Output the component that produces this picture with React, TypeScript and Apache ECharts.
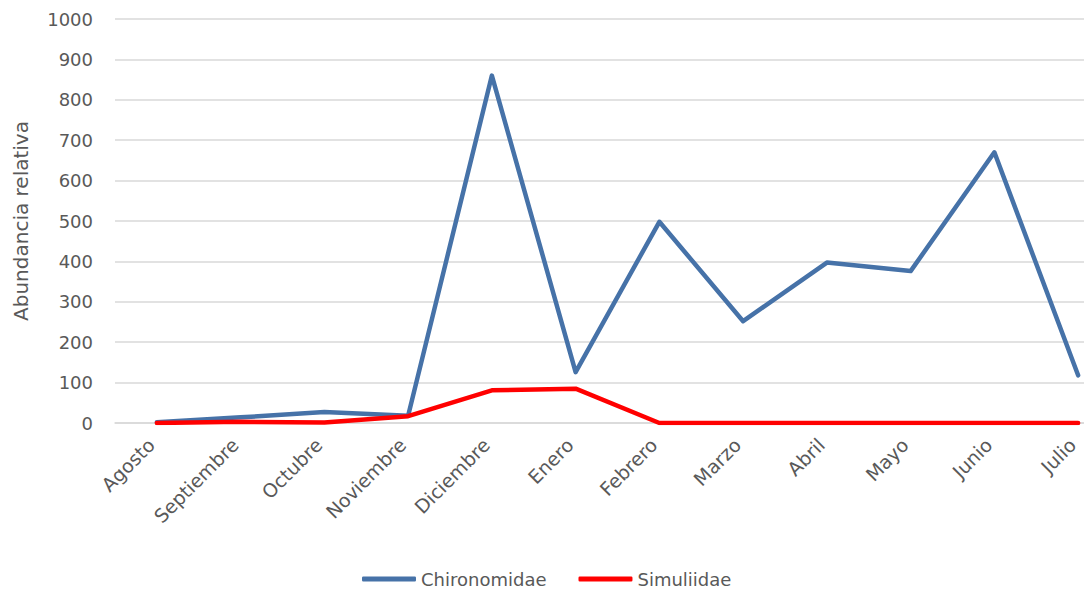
import React, { useEffect, useRef } from "react";
import * as echarts from "echarts";

// Months of sampling, August through July
const months = [
  "Agosto",
  "Septiembre",
  "Octubre",
  "Noviembre",
  "Diciembre",
  "Enero",
  "Febrero",
  "Marzo",
  "Abril",
  "Mayo",
  "Junio",
  "Julio",
];

// Relative abundance per month
const chironomidae = [2, 14, 27, 18, 860, 126, 498, 252, 397, 376, 670, 118];
const simuliidae = [0, 3, 1, 17, 81, 85, 0, 0, 0, 0, 0, 0];

const yTicks = { min: 0, max: 1000, interval: 100 };

const FONT = "DejaVu Sans";
const TEXT = "#595959";

export default function App() {
  const ref = useRef<HTMLDivElement>(null);

  useEffect(() => {
    if (!ref.current) return;
    const chart = echarts.init(ref.current, undefined, { renderer: "svg" });
    chart.setOption({
      animation: false,
      backgroundColor: "#ffffff",
      textStyle: { fontFamily: FONT, color: TEXT },
      // plot area runs past the right edge of the visible window
      grid: { left: 115, top: 19, width: 1005, height: 404 },
      legend: {
        left: 357,
        top: 565,
        itemWidth: 54,
        itemHeight: 5,
        itemGap: 32,
        icon: "roundRect",
        textStyle: { fontFamily: FONT, fontSize: 18, color: TEXT },
        data: ["Chironomidae", "Simuliidae"],
      },
      xAxis: {
        type: "category",
        data: months,
        boundaryGap: true,
        axisLine: { lineStyle: { color: "#D9D9D9", width: 1.5 } },
        axisTick: { show: false },
        axisLabel: {
          rotate: 45,
          interval: 0,
          margin: 13,
          padding: [0, 8, 0, 0],
          fontFamily: FONT,
          fontSize: 19,
          color: TEXT,
        },
      },
      yAxis: {
        type: "value",
        min: yTicks.min,
        max: yTicks.max,
        interval: yTicks.interval,
        name: "Abundancia relativa",
        nameLocation: "middle",
        nameGap: 84,
        nameTextStyle: { fontFamily: FONT, fontSize: 20, color: TEXT },
        axisLine: { show: false },
        axisTick: { show: false },
        axisLabel: {
          margin: 22,
          fontFamily: FONT,
          fontSize: 18,
          color: TEXT,
          formatter: (v: number) => String(v),
        },
        splitLine: { lineStyle: { color: "#D9D9D9", width: 1.5 } },
      },
      series: [
        {
          name: "Chironomidae",
          type: "line",
          data: chironomidae,
          symbol: "none",
          color: "#4672A8",
          lineStyle: { width: 4.5, color: "#4672A8", cap: "round", join: "round" },
        },
        {
          name: "Simuliidae",
          type: "line",
          data: simuliidae,
          symbol: "none",
          color: "#FF0000",
          lineStyle: { width: 4.5, color: "#FF0000", cap: "round", join: "round" },
        },
      ],
    });
    return () => chart.dispose();
  }, []);

  return (
    <div
      ref={ref}
      style={{ position: "fixed", left: 0, top: 0, width: 1130, height: 590 }}
    />
  );
}
